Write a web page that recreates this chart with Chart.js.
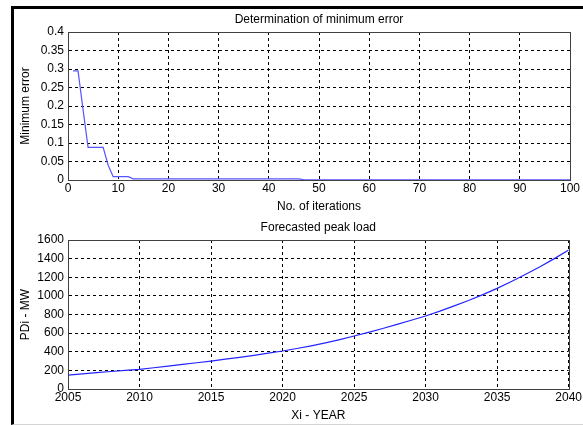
<!DOCTYPE html>
<html>
<head>
<meta charset="utf-8">
<script src="https://cdn.jsdelivr.net/npm/chart.js@4"></script>
<style>
  html, body { margin: 0; padding: 0; background: #fff; }
  #fig { position: relative; width: 583px; height: 425px; overflow: hidden; }
  #frame { position: absolute; left: 11px; top: 6px; width: 580px; height: 415px;
           border-left: 3px solid #000; border-top: 3px solid #000; border-bottom: 1px solid #d4d4d4; }
  #c1 { position: absolute; left: 13px; top: 8px; }
  #c2 { position: absolute; left: 13px; top: 213px; }
</style>
</head>
<body>
<div id="fig">
  <div id="frame"></div>
  <canvas id="c1" width="570" height="207"></canvas>
  <canvas id="c2" width="570" height="210"></canvas>
</div>
<script>
// minimum error per iteration
const iterations = [];
for (let i = 1; i <= 100; i++) iterations.push(i);
const minError = [
  0.295, 0.295, 0.19, 0.088, 0.088, 0.088, 0.088, 0.04, 0.009, 0.009,
  0.009, 0.009, 0.003, 0.003, 0.003, 0.003, 0.003, 0.003, 0.003, 0.003,
  0.003, 0.003, 0.003, 0.003, 0.003, 0.003, 0.003, 0.003, 0.003, 0.003,
  0.003, 0.003, 0.003, 0.003, 0.003, 0.003, 0.003, 0.003, 0.003, 0.003,
  0.003, 0.003, 0.003, 0.003, 0.003, 0.003, 0.0005, 0.0005, 0.0005, 0.0005,
  0.0005, 0.0005, 0.0005, 0.0005, 0.0005, 0.0005, 0.0005, 0.0005, 0.0005, 0.0005,
  0.0005, 0.0005, 0.0005, 0.0005, 0.0005, 0.0005, 0.0005, 0.0005, 0.0005, 0.0005,
  0.0005, 0.0005, 0.0005, 0.0005, 0.0005, 0.0005, 0.0005, 0.0005, 0.0005, 0.0005,
  0.0005, 0.0005, 0.0005, 0.0005, 0.0005, 0.0005, 0.0005, 0.0005, 0.0005, 0.0005,
  0.0005, 0.0005, 0.0005, 0.0005, 0.0005, 0.0005, 0.0005, 0.0005, 0.0005, 0.0005
];

// forecasted peak load, MW
const years = [];
for (let y = 2005; y <= 2040; y++) years.push(y);
const peakLoad = [
  150, 162, 175, 188, 200, 211, 228, 246, 264, 282,
  300, 320, 340, 362, 385, 408, 435, 464, 496, 531,
  569, 608, 650, 694, 738, 784, 836, 892, 950, 1013,
  1081, 1155, 1232, 1313, 1400, 1493
];

const FONT = { family: "'Liberation Sans', Arial, sans-serif", size: 12 };

// solid box round the axes like matlab
const boxPlugin = {
  id: "axbox",
  afterDraw(chart) {
    const a = chart.chartArea;
    const ctx = chart.ctx;
    ctx.save();
    ctx.strokeStyle = "#404040";
    ctx.lineWidth = 1;
    ctx.strokeRect(Math.round(a.left) + 0.5, Math.round(a.top) + 0.5,
      Math.round(a.right - a.left), Math.round(a.bottom - a.top));
    ctx.restore();
  },
};

function makeChart(el, cfg) {
  return new Chart(el, {
    type: "line",
    data: {
      datasets: [{
        data: cfg.xs.map((x, i) => ({ x: x, y: cfg.ys[i] })),
        borderColor: cfg.color,
        borderWidth: 1.2,
        pointRadius: 0,
        tension: 0,
      }],
    },
    options: {
      responsive: false,
      animation: false,
      layout: { padding: { left: 0, right: 13, top: 0, bottom: 0 } },
      plugins: {
        legend: { display: false },
        tooltip: { enabled: false },
        title: {
          display: true,
          text: cfg.title,
          color: "#000",
          font: { ...FONT, weight: "normal" },
          fullSize: false,
          padding: cfg.titlePad,
        },
      },
      scales: {
        x: {
          type: "linear",
          min: cfg.xmin, max: cfg.xmax,
          afterFit: (s) => { s.height = cfg.xh; },
          ticks: { stepSize: cfg.xstep, color: "#000", font: FONT, padding: 1, maxRotation: 0,
                   callback: (v) => String(v) },
          grid: { color: "#000", drawTicks: false, tickLength: 0 },
          border: { color: "#404040", dash: [3, 3] },
          title: { display: true, text: cfg.xlabel, color: "#000", font: FONT,
                   padding: { top: 0, bottom: cfg.xlabelPad } },
        },
        y: {
          min: cfg.ymin, max: cfg.ymax,
          afterFit: (s) => { s.width = 55; },
          ticks: { stepSize: cfg.ystep, color: "#000", font: FONT, padding: 4,
                   callback: (v) => String(+v.toFixed(2)) },
          grid: { color: "#000", drawTicks: false, tickLength: 0 },
          border: { color: "#404040", dash: [3, 3] },
          title: { display: true, text: cfg.ylabel, color: "#000", font: FONT,
                   padding: { top: 5, bottom: 0 } },
        },
      },
    },
    plugins: [boxPlugin],
  });
}

makeChart(document.getElementById("c1"), {
  xs: iterations, ys: minError, color: "#5555ff",
  title: "Determination of minimum error",
  titlePad: { top: 4, bottom: 5.6 },
  xlabel: "No. of iterations", xlabelPad: 1,
  ylabel: "Minimum error",
  xmin: 0, xmax: 100, xstep: 10, xh: 35,
  ymin: 0, ymax: 0.4, ystep: 0.05,
});

makeChart(document.getElementById("c2"), {
  xs: years, ys: peakLoad, color: "#2424ff",
  title: "Forecasted peak load",
  titlePad: { top: 7, bottom: 5.6 },
  xlabel: "Xi - YEAR", xlabelPad: 0,
  ylabel: "PDi - MW",
  xmin: 2005, xmax: 2040, xstep: 5, xh: 34,
  ymin: 0, ymax: 1600, ystep: 200,
});
</script>
</body>
</html>
